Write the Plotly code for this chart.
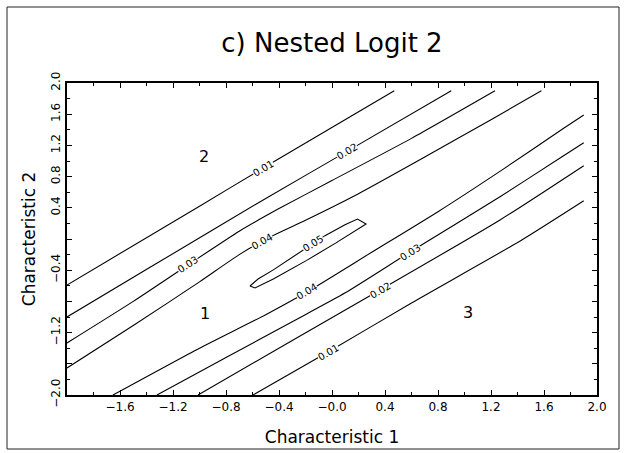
import numpy as np
import plotly.graph_objects as go

# ---------------- data ----------------
level_text = ["0.01", "0.02", "0.03", "0.04", "0.05"]

# contour lines on the upper-left side of the ridge (toward region 2)
u01_x = [-2.0, -1.0, -0.52, 0.47]
u01_y = [-0.59, 0.42, 0.91, 1.9]
u02_x = [-2.0, -1.37, -0.5, 0.11, 0.9]
u02_y = [-1.0, -0.36, 0.52, 1.12, 1.9]
u03_x = [-2.0, -1.5, -1.09, -0.7, -0.4, 0.0, 0.6, 1.23]
u03_y = [-1.333, -0.80, -0.336, 0.10, 0.39, 0.75, 1.29, 1.9]
u04_x = [-2.0, -1.5, -1.0, -0.7, -0.45, -0.2, 0.2, 0.7, 1.2, 1.58]
u04_y = [-1.654, -1.11, -0.55, -0.20, 0.04, 0.24, 0.58, 1.05, 1.53, 1.9]

# contour lines on the lower-right side of the ridge (toward region 3)
l04_x = [-1.653, -1.0, -0.5, -0.19, 0.3, 0.8, 1.27, 1.74, 1.9]
l04_y = [-2.0, -1.40, -0.97, -0.68, -0.17, 0.35, 0.87, 1.41, 1.59]
l03_x = [-1.321, -0.8, -0.3, 0.1, 0.589, 1.268, 1.736, 1.9]
l03_y = [-2.0, -1.52, -1.06, -0.69, -0.167, 0.542, 1.055, 1.235]
l02_x = [-1.011, -0.3, 0.362, 1.268, 1.9]
l02_y = [-2.0, -1.30, -0.654, 0.244, 0.94]
l01_x = [-0.596, -0.03, 0.6, 1.432, 1.9]
l01_y = [-2.0, -1.449, -0.82, -0.013, 0.49]

# closed 0.05 contour around the peak
e05_x = [-0.619, -0.558, -0.443, -0.317, -0.143, -0.053, 0.098, 0.192, 0.257,
         0.030, -0.191, -0.317, -0.443, -0.581, -0.619]
e05_y = [-0.603, -0.513, -0.396, -0.253, -0.058, 0.043, 0.183, 0.256, 0.192,
         -0.050, -0.274, -0.397, -0.512, -0.628, -0.603]

# contour label positions (x on each line)
lab_u01_x = -0.521
lab_u02_x = 0.113
lab_u03_x = -1.087
lab_u04_x = -0.528
lab_l04_x = -0.189
lab_l03_x = 0.589
lab_l02_x = 0.362
lab_l01_x = -0.03
lab_e05_idx = 4  # label sits on this vertex of the 0.05 contour

# region labels
region_text = ["2", "1", "3"]
region_x = [-0.964, -0.958, 1.029]
region_y = [1.055, -0.95, -0.945]

x_tickvals = [-1.6, -1.2, -0.8, -0.4, 0.0, 0.4, 0.8, 1.2, 1.6, 2.0]
x_ticktext = ["\u22121.6", "\u22121.2", "\u22120.8", "\u22120.4", "\u22120.0",
              "0.4", "0.8", "1.2", "1.6", "2.0"]
y_tickvals = [-2.0, -1.6, -1.2, -0.8, -0.4, 0.0, 0.4, 0.8, 1.2, 1.6, 2.0]
y_ticktext = ["\u22122.0", "", "\u22121.2", "", "\u22120.4", "",
              "0.4", "0.8", "1.2", "1.6", "2.0"]
minor_vals = [-1.8, -1.4, -1.0, -0.6, -0.2, 0.2, 0.6, 1.0, 1.4, 1.8]

# ---------------- layout geometry ----------------
W, H = 626, 453
ML, MR, MT, MB = 67, 29, 83, 58
PW, PH = W - ML - MR, H - MT - MB
XR, YR = [-2, 2], [-2, 2]
ppx = PW / (XR[1] - XR[0])
ppy = PH / (YR[1] - YR[0])

FONT = "DejaVu Sans"

fig = go.Figure()

open_lines = [
    (u01_x, u01_y), (u02_x, u02_y), (u03_x, u03_y), (u04_x, u04_y),
    (l04_x, l04_y), (l03_x, l03_y), (l02_x, l02_y), (l01_x, l01_y),
]
for lx, ly in open_lines:
    fig.add_trace(go.Scatter(x=lx, y=ly, mode="lines",
                             line=dict(color="black", width=1.1, shape="spline",
                                       smoothing=0.6),
                             hoverinfo="skip", showlegend=False))
fig.add_trace(go.Scatter(x=e05_x, y=e05_y, mode="lines",
                         line=dict(color="black", width=1.1),
                         hoverinfo="skip", showlegend=False))


def angle_of(dx, dy):
    return -np.degrees(np.arctan2(dy * ppy, dx * ppx))


annos = []
LABFONT = dict(family=FONT, size=10, color="black")


def add_label(text, lx, ly, px):
    py = float(np.interp(px, lx, ly))
    d = 0.12
    dy = np.interp(px + d, lx, ly) - np.interp(px - d, lx, ly)
    ang = angle_of(2 * d, dy)
    annos.append(dict(x=px, y=py, text=text, showarrow=False, textangle=ang,
                      font=LABFONT, bgcolor="white", borderpad=0,
                      xanchor="center", yanchor="middle"))


add_label(level_text[0], u01_x, u01_y, lab_u01_x)
add_label(level_text[1], u02_x, u02_y, lab_u02_x)
add_label(level_text[2], u03_x, u03_y, lab_u03_x)
add_label(level_text[3], u04_x, u04_y, lab_u04_x)
add_label(level_text[3], l04_x, l04_y, lab_l04_x)
add_label(level_text[2], l03_x, l03_y, lab_l03_x)
add_label(level_text[1], l02_x, l02_y, lab_l02_x)
add_label(level_text[0], l01_x, l01_y, lab_l01_x)

i = lab_e05_idx
ea = angle_of(e05_x[i + 2] - e05_x[i - 1], e05_y[i + 2] - e05_y[i - 1])
annos.append(dict(x=e05_x[i], y=e05_y[i], text=level_text[4], showarrow=False,
                  textangle=ea, font=LABFONT, bgcolor="white", borderpad=0))

for t, rx, ry in zip(region_text, region_x, region_y):
    annos.append(dict(x=rx, y=ry, text=t, showarrow=False,
                      font=dict(family=FONT, size=16, color="black")))

# outer frame around the whole picture (paper coords from pixel frame)
fx0, fx1 = (7 - ML) / PW, (619 - ML) / PW
fy0, fy1 = (H - MB - 449) / PH, (H - MB - 7) / PH

fig.update_layout(
    width=W, height=H,
    margin=dict(l=ML, r=MR, t=MT, b=MB, autoexpand=False),
    paper_bgcolor="white", plot_bgcolor="white",
    font=dict(family=FONT, color="black"),
    title=dict(text="c) Nested Logit 2", x=0.5, xref="paper", xanchor="center",
               y=1 - 43 / H, yref="container", yanchor="middle",
               font=dict(family=FONT, size=26, color="black")),
    annotations=annos,
    shapes=[dict(type="rect", xref="paper", yref="paper", x0=fx0, x1=fx1,
                 y0=fy0, y1=fy1, line=dict(color="#222", width=1), layer="below")],
    xaxis=dict(range=XR, tickmode="array", tickvals=x_tickvals, ticktext=x_ticktext,
               ticks="inside", ticklen=5, tickwidth=1, tickcolor="black",
               minor=dict(tickmode="array", tickvals=minor_vals, ticks="inside",
                          ticklen=3, tickcolor="black"),
               showline=True, linewidth=2, linecolor="black", mirror="ticks",
               showgrid=False, zeroline=False,
               tickfont=dict(family=FONT, size=12),
               title=dict(text="Characteristic 1", standoff=18,
                          font=dict(family=FONT, size=17))),
    yaxis=dict(range=YR, tickmode="array", tickvals=y_tickvals, ticktext=y_ticktext,
               ticks="inside", ticklen=5, tickwidth=1, tickcolor="black",
               minor=dict(tickmode="array", tickvals=minor_vals, ticks="inside",
                          ticklen=3, tickcolor="black"),
               showline=True, linewidth=2, linecolor="black", mirror="ticks",
               showgrid=False, zeroline=False, tickangle=-90,
               tickfont=dict(family=FONT, size=12),
               title=dict(text="Characteristic 2", standoff=9,
                          font=dict(family=FONT, size=17))),
)

fig.write_html("out.html")
